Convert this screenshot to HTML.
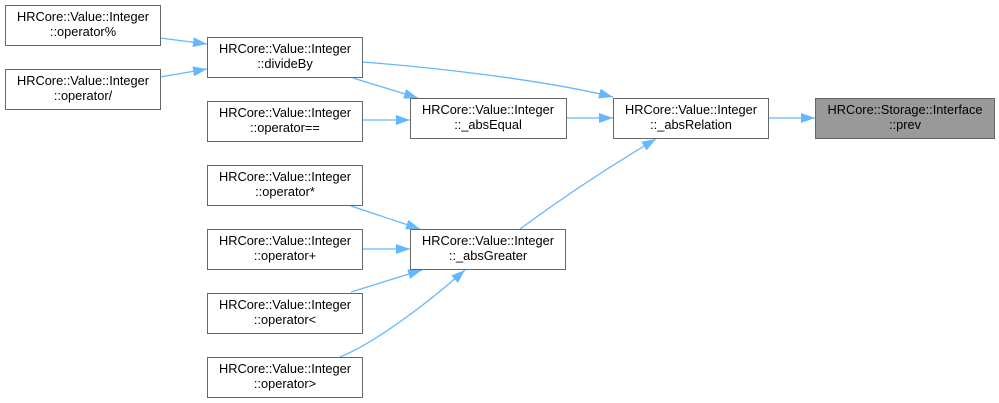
<!DOCTYPE html>
<html>
<head>
<meta charset="utf-8">
<style>
  html, body { margin: 0; padding: 0; background: #ffffff; }
  svg { display: block; }
  text { font-family: "Liberation Sans", Arial, sans-serif; font-size: 12.8px; fill: #000; }
</style>
</head>
<body>
<svg width="999" height="403" viewBox="0 0 999 403" xmlns="http://www.w3.org/2000/svg">
  <defs>
    <marker id="ah" markerUnits="userSpaceOnUse" markerWidth="14" markerHeight="10" refX="14" refY="5" orient="auto">
      <path d="M0,0 L14,5 L0,10 z" fill="#63b8ff" stroke="none"/>
    </marker>
  </defs>
  <rect width="999" height="403" fill="#ffffff"/>

  <!-- edges -->
  <g fill="none" stroke="#63b8ff" stroke-width="1.3">
    <path d="M160,38 L207,44" marker-end="url(#ah)"/>
    <path d="M160,77 L207,69" marker-end="url(#ah)"/>
    <path d="M362,62 C430,67 545,80 613,97" marker-end="url(#ah)"/>
    <path d="M353,78 L418,98" marker-end="url(#ah)"/>
    <path d="M362,120 L410,120" marker-end="url(#ah)"/>
    <path d="M566,118 L613,118" marker-end="url(#ah)"/>
    <path d="M768,118 L815,118" marker-end="url(#ah)"/>
    <path d="M520,229 Q585,181 656,139" marker-end="url(#ah)"/>
    <path d="M351,206 L420,229" marker-end="url(#ah)"/>
    <path d="M362,249 L410,249" marker-end="url(#ah)"/>
    <path d="M351,292 L422,270" marker-end="url(#ah)"/>
    <path d="M340,357 C370,345 420,310 465,270" marker-end="url(#ah)"/>
  </g>

  <!-- nodes -->
  <g stroke="#666666" stroke-width="1" fill="#ffffff">
    <rect x="5.5" y="5.5" width="155" height="40"/>
    <rect x="5.5" y="69.5" width="155" height="40"/>
    <rect x="207.5" y="37.5" width="155" height="40"/>
    <rect x="207.5" y="101.5" width="155" height="40"/>
    <rect x="207.5" y="165.5" width="155" height="40"/>
    <rect x="207.5" y="229.5" width="155" height="40"/>
    <rect x="207.5" y="293.5" width="155" height="40"/>
    <rect x="207.5" y="357.5" width="155" height="40"/>
    <rect x="410.5" y="98.5" width="156" height="40"/>
    <rect x="410.5" y="229.5" width="155" height="40"/>
    <rect x="613.5" y="98.5" width="155" height="40"/>
    <rect x="815.5" y="98.5" width="179" height="40" fill="#999999"/>
  </g>

  <g text-anchor="middle">
    <text x="83" y="21">HRCore::Value::Integer</text>
    <text x="83" y="36">::operator%</text>

    <text x="83" y="85">HRCore::Value::Integer</text>
    <text x="83" y="100">::operator/</text>

    <text x="285" y="53">HRCore::Value::Integer</text>
    <text x="285" y="68">::divideBy</text>

    <text x="285" y="117">HRCore::Value::Integer</text>
    <text x="285" y="132">::operator==</text>

    <text x="285" y="181">HRCore::Value::Integer</text>
    <text x="285" y="196">::operator*</text>

    <text x="285" y="245">HRCore::Value::Integer</text>
    <text x="285" y="260">::operator+</text>

    <text x="285" y="309">HRCore::Value::Integer</text>
    <text x="285" y="324">::operator&lt;</text>

    <text x="285" y="373">HRCore::Value::Integer</text>
    <text x="285" y="388">::operator&gt;</text>

    <text x="488" y="114">HRCore::Value::Integer</text>
    <text x="488" y="129">::_absEqual</text>

    <text x="488" y="245">HRCore::Value::Integer</text>
    <text x="488" y="260">::_absGreater</text>

    <text x="691" y="114">HRCore::Value::Integer</text>
    <text x="691" y="129">::_absRelation</text>

    <text x="905" y="114">HRCore::Storage::Interface</text>
    <text x="905" y="129">::prev</text>
  </g>
</svg>
</body>
</html>
